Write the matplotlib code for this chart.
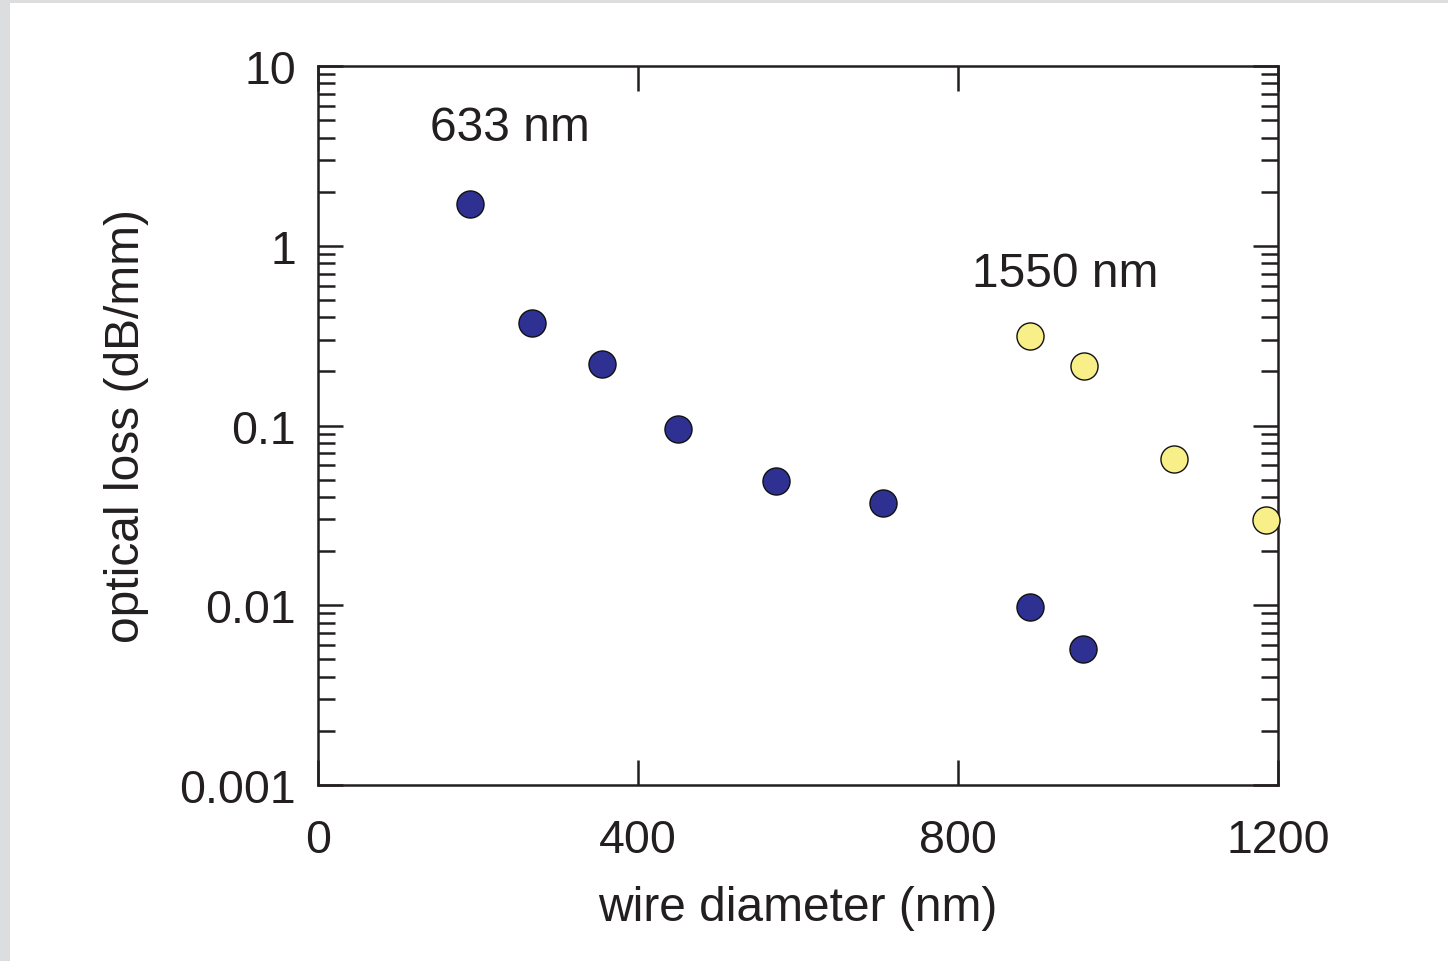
import numpy as np
import matplotlib
matplotlib.use('Agg')
import matplotlib.pyplot as plt
from matplotlib.patches import Rectangle
from matplotlib.ticker import LogLocator, NullFormatter, FixedLocator

plt.rcParams['font.family'] = ['Liberation Sans', 'DejaVu Sans']

# 633 nm data
d633 = [190, 268, 355, 450, 572, 706, 890, 956]
loss633 = [1.71, 0.372, 0.22, 0.0957, 0.049, 0.037, 0.0098, 0.0057]
# 1550 nm data
d1550 = [890, 957, 1070, 1185]
loss1550 = [0.315, 0.214, 0.065, 0.0298]

xticks = [0, 400, 800, 1200]
yticks = [0.001, 0.01, 0.1, 1, 10]
ylabels = ['0.001', '0.01', '0.1', '1', '10']

fig = plt.figure(figsize=(14.48, 9.62), dpi=100)
fig.patch.set_facecolor('#dcdddf')
# white page with a thin grey margin on the top and left
bg = Rectangle((10 / 1448, 0), 1, 1 - 4 / 962, transform=fig.transFigure,
               facecolor='white', edgecolor='none', zorder=-10)
fig.add_artist(bg)

ax = fig.add_axes([318 / 1448, 1 - 786 / 962, 960 / 1448, 719 / 962])
ax.set_zorder(5)
ax.set_facecolor('white')

ax.scatter(d633, loss633, s=380, color='#2e3192', edgecolor='#111111', linewidth=1.0, zorder=3, clip_on=False)
ax.scatter(d1550, loss1550, s=380, color='#f8ef88', edgecolor='#111111', linewidth=1.0, zorder=3, clip_on=False)

ax.set_yscale('log')
ax.set_xlim(0, 1200)
ax.set_ylim(0.001, 10)

ax.xaxis.set_major_locator(FixedLocator(xticks))
ax.set_xticklabels([str(t) for t in xticks])
ax.yaxis.set_major_locator(FixedLocator(yticks))
ax.set_yticklabels(ylabels)
ax.yaxis.set_minor_locator(LogLocator(base=10, subs=np.arange(2, 10)))
ax.yaxis.set_minor_formatter(NullFormatter())

for s in ax.spines.values():
    s.set_linewidth(1.8)
    s.set_color('#231f20')

ax.tick_params(axis='both', which='major', direction='in', length=18, width=1.8,
               top=True, right=True, labelsize=33.5, color='#231f20', labelcolor='#231f20')
ax.tick_params(axis='y', which='major', pad=16)
ax.tick_params(axis='x', which='major', pad=24)
ax.tick_params(axis='y', which='minor', direction='in', length=12, width=1.8,
               left=True, right=True, color='#231f20')

ax.set_xlabel('wire diameter (nm)', fontsize=34.5, color='#231f20', labelpad=16)
ax.set_ylabel('optical loss (dB/mm)', fontsize=34.5, color='#231f20', labelpad=22)

ax.text(140, 4.57, '633 nm', fontsize=34.5, color='#231f20', ha='left', va='center')
ax.text(817, 0.70, '1550 nm', fontsize=34.5, color='#231f20', ha='left', va='center')

fig.savefig('out.png', dpi=100, facecolor=fig.get_facecolor())
